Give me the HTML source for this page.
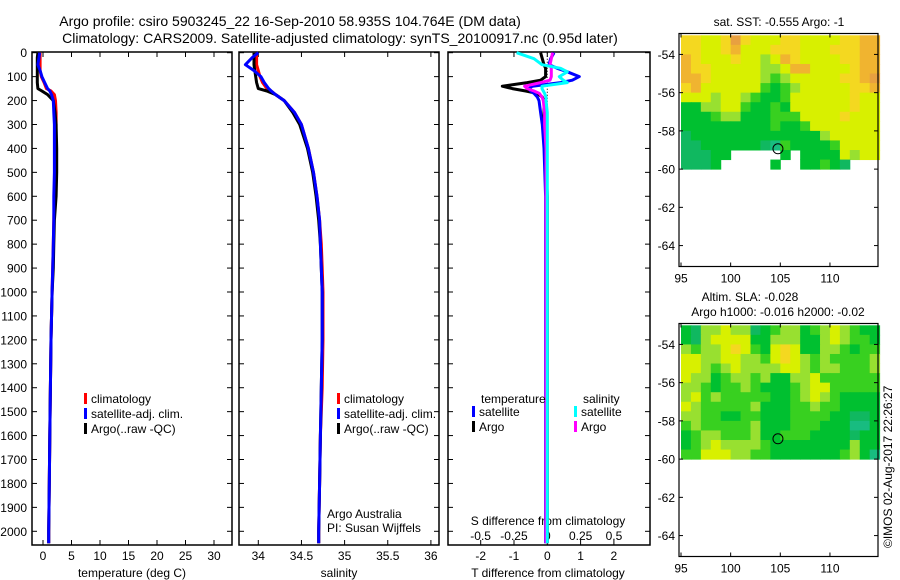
<!DOCTYPE html>
<html><head><meta charset="utf-8">
<style>
html,body{margin:0;padding:0;background:#fff;}
svg{display:block;font-family:"Liberation Sans",sans-serif;}
text{fill:#000;}
</style></head>
<body>
<svg id="fig" width="900" height="580" viewBox="0 0 900 580">
<text x="290" y="26" font-size="14" text-anchor="middle">Argo profile: csiro 5903245_22 16-Sep-2010 58.935S 104.764E (DM data)</text>
<text x="340" y="43" font-size="14" text-anchor="middle">Climatology: CARS2009. Satellite-adjusted climatology: synTS_20100917.nc (0.95d later)</text>
<g id="g1"></g>
<g id="g2"></g>
<g id="g3"></g>
<g id="m1"></g>
<g id="m2"></g>
<text transform="translate(892,548) rotate(-90)" font-size="12">©IMOS 02-Aug-2017 22:26:27</text>
</svg>
<script>
// ---------- profile data ----------
const depths = [0,20,50,75,100,125,150,160,175,200,250,300,400,500,600,700,800,900,1000,1200,1400,1600,1800,2000,2050];
const tempArgo = [-0.9,-1.0,-1.0,-1.0,-1.0,-1.0,-0.9,-0.2,0.8,1.8,2.1,2.3,2.4,2.4,2.3,2.0,1.9,1.8,1.6,1.4,1.3,1.2,1.1,1.0,1.0];
const tempClim = [-0.5,-0.5,-0.5,-0.5,-0.3,0.2,0.6,1.4,2.0,2.2,2.3,2.3,2.2,2.1,2.0,1.9,1.8,1.7,1.6,1.4,1.3,1.2,1.1,1.0,1.0];
const tempSat = [-0.6,-0.7,-0.9,-0.5,-0.2,0.3,0.8,1.2,1.5,1.8,1.9,2.0,2.0,2.0,1.9,1.9,1.8,1.7,1.6,1.4,1.3,1.2,1.1,1.0,1.0];
const salArgo = [33.95,33.95,33.95,33.96,33.97,33.98,34.0,34.1,34.2,34.3,34.4,34.48,34.57,34.63,34.67,34.7,34.72,34.73,34.74,34.74,34.73,34.72,34.71,34.70,34.70];
const salClim = [33.98,33.98,33.98,34.0,34.02,34.05,34.1,34.15,34.2,34.3,34.42,34.5,34.58,34.64,34.68,34.71,34.73,34.74,34.75,34.75,34.74,34.72,34.71,34.70,34.70];
const salSat = [34.0,33.93,33.85,33.95,34.03,34.07,34.12,34.15,34.2,34.3,34.42,34.5,34.58,34.64,34.68,34.71,34.72,34.73,34.74,34.74,34.73,34.72,34.71,34.70,34.70];
const diffDepths = [0,25,50,65,80,100,115,125,140,150,160,170,185,200,250,300,400,600,800,1000,1500,2050];
const dTArgo = [-0.2,-0.15,-0.1,-0.05,-0.05,-0.05,-0.2,-0.6,-1.35,-1.05,-0.65,-0.3,-0.15,-0.1,-0.1,-0.1,-0.05,0,0,0,0,0];
const dSArgo = [0.04,0.03,0.02,0.03,0.03,0.03,0.02,-0.05,-0.17,-0.15,-0.1,-0.06,-0.04,-0.03,-0.02,-0.02,-0.01,-0.01,-0.01,-0.01,-0.01,-0.01];
const dTSat = [0.2,0.1,0.05,0.3,0.6,0.96,0.75,0.4,-0.45,-0.55,-0.5,-0.4,-0.3,-0.25,-0.2,-0.15,-0.1,-0.05,-0.05,-0.05,-0.05,-0.05];
const dSSat = [-0.23,-0.1,-0.04,0.1,0.15,0.09,0.12,0.15,-0.04,-0.04,-0.03,-0.02,-0.01,-0.01,0,0,0,0,0,0,0,0];
const depthTicks = [0,100,200,300,400,500,600,700,800,900,1000,1100,1200,1300,1400,1500,1600,1700,1800,1900,2000];
const tempTicks = [0,5,10,15,20,25,30];
const salTicks = [34,34.5,35,35.5,36];
const tDiffTicks = [-2,-1,0,1,2];
const sDiffTicks = [-0.5,-0.25,0,0.25,0.5];
const sDiffTickLabels = ["-0.5","-0.25","0","0.25","0.5"];
// ---------- map data (rows: lat -53 to -60 in 0.5 deg; cols: lon 95..114), '.' = missing ----------
const sstGrid = [
"77667976667766667788",
"77667866677766677788",
"87666766568766667788",
"87766666556886666788",
"88766666545666667789",
"78666666434566666778",
"66656654334666666766",
"33556643343666666766",
"33345533344466667666",
"33333333343346666666",
"23333333333333566666",
"22333333214333346666",
"22233.....3.33336566",
"2223.....3..33432...",
];
const slaGrid = [
"32556552345534565433",
"32566663355533565443",
"54556764367633554344",
"66556655467654544445",
"66545655556654554445",
"65534554533556444444",
"55434454333456644444",
"56454444433456543333",
"65444445333445443333",
"55443344333444433223",
"45444445333444333113",
"34554445334443333233",
"34565555433333333533",
"44666554433333334531",
];
const colorMap = ["#20c4a8","#18bc80","#10b860","#00c030","#38d020","#98e030","#d8f000","#f4d820","#f0b430","#e8a040"];
const floatLon = 104.764, floatLat = -58.935;

const svg = document.getElementById('fig');
const NS = "http://www.w3.org/2000/svg";
function mk(parent, tag, attrs){ const e=document.createElementNS(NS,tag); for(const k in attrs) e.setAttribute(k,attrs[k]); parent.appendChild(e); return e; }

// ---------- profile panels ----------
const yTop = 52, yBot = 545;
function yDepth(d){ return 52.7 + d*0.2393; }
function frame(g, x0, x1, y0, y1){
  const r = mk(g,'rect',{x:x0,y:y0,width:x1-x0,height:y1-y0,fill:'none',stroke:'#000','stroke-width':1.5});
  
  
}
function yTicks(g, x0, x1, labels){
  depthTicks.forEach(d=>{
    const y=yDepth(d);
    mk(g,'line',{x1:x0,y1:y,x2:x0+5,y2:y,stroke:'#000'});
    mk(g,'line',{x1:x1,y1:y,x2:x1-5,y2:y,stroke:'#000'});
    if(labels){
      const t=mk(g,'text',{x:x0-5,y:y+4.5,'font-size':12,'text-anchor':'end'});
      t.textContent=d;
      
      
    }
  });
}
function xTicks(g, vals, labs, xf, ylab, top){
  vals.forEach((v,i)=>{
    const x=xf(v);
    mk(g,'line',{x1:x,y1:yBot,x2:x,y2:yBot-5,stroke:'#000'});
    if(top) mk(g,'line',{x1:x,y1:yTop,x2:x,y2:yTop+5,stroke:'#000'});
    if(labs){
      const t=mk(g,'text',{x:x,y:ylab,'font-size':12,'text-anchor':'middle'});
      t.textContent=labs[i];
      
      
    }
  });
}
function profile(g, vals, ds, xf, color, name, w){
  let d='';
  vals.forEach((v,i)=>{ d += (i?'L':'M')+xf(v).toFixed(1)+','+yDepth(ds[i]).toFixed(1); });
  const p=mk(g,'path',{d:d,fill:'none',stroke:color,'stroke-width':w||3,'stroke-linejoin':'round'});
  
  
}
function legendEntry(g, x, y, color, label){
  mk(g,'rect',{x:x,y:y-10,width:3,height:11,fill:color});
  const t=mk(g,'text',{x:x+7,y:y,'font-size':12});
  t.textContent=label;
  
  
}
function label(g,x,y,txt,name,anchor){
  const t=mk(g,'text',{x:x,y:y,'font-size':12,'text-anchor':anchor||'start'});
  t.textContent=txt;
  
  
}

// Panel 1: temperature
const g1=document.getElementById('g1');
const xT = v => 43 + 5.7*v;
frame(g1,32,232,yTop,yBot);
yTicks(g1,32,232,true);
xTicks(g1,tempTicks,tempTicks.map(String),xT,560,true);
label(g1,132,577,'temperature (deg C)','x-axis-title','middle');
profile(g1,tempClim,depths,xT,'#f00','climatology-line');
profile(g1,tempArgo,depths,xT,'#000','argo-line');
profile(g1,tempSat,depths,xT,'#00f','satellite-line');
legendEntry(g1,84,403,'#f00','climatology');
legendEntry(g1,84,418,'#00f','satellite-adj. clim.');
legendEntry(g1,84,433,'#000','Argo(..raw -QC)');

// Panel 2: salinity
const g2=document.getElementById('g2');
const xS = v => 258.3 + 86.3*(v-34);
frame(g2,239,439,yTop,yBot);
yTicks(g2,239,439,false);
xTicks(g2,salTicks,["34","34.5","35","35.5","36"],xS,560,true);
label(g2,339,577,'salinity','x-axis-title','middle');
profile(g2,salClim,depths,xS,'#f00','climatology-line');
profile(g2,salArgo,depths,xS,'#000','argo-line');
profile(g2,salSat,depths,xS,'#00f','satellite-line');
legendEntry(g2,337,403,'#f00','climatology');
legendEntry(g2,337,418,'#00f','satellite-adj. clim.');
legendEntry(g2,337,433,'#000','Argo(..raw -QC)');
label(g2,327,518,'Argo Australia','argo-australia-note');
label(g2,327,532,'PI: Susan Wijffels','pi-note');

// Panel 3: differences
const g3=document.getElementById('g3');
const xDT = v => 547.3 + 33.3*v;
const xDS = v => 547.3 + 133.3*v;
frame(g3,448,650,yTop,yBot);
yTicks(g3,448,650,false);
xTicks(g3,tDiffTicks,tDiffTicks.map(String),xDT,560,false);
sDiffTicks.forEach((v,i)=>{ const x=xDS(v); mk(g3,'line',{x1:x,y1:yTop,x2:x,y2:yTop+5,stroke:'#000'});
  const t=mk(g3,'text',{x:x,y:540,'font-size':12,'text-anchor':'middle'}); t.textContent=sDiffTickLabels[i];
  
   });
label(g3,548,525,'S difference from climatology','s-diff-axis-title','middle');
label(g3,548,577,'T difference from climatology','t-diff-axis-title','middle');
mk(g3,'line',{x1:xDT(0),y1:yDepth(0),x2:xDT(0),y2:yDepth(360),stroke:'#000','stroke-dasharray':'1,2'});
profile(g3,dTArgo,diffDepths,xDT,'#000','t-diff-argo-line');
profile(g3,dTSat,diffDepths,xDT,'#00f','t-diff-satellite-line');
profile(g3,dSArgo,diffDepths,xDS,'#f0f','s-diff-argo-line');
profile(g3,dSSat,diffDepths,xDS,'#0ff','s-diff-satellite-line');
label(g3,481,403,'temperature','legend-heading-temperature');
label(g3,583,403,'salinity','legend-heading-salinity');
legendEntry(g3,472,416,'#00f','satellite');
legendEntry(g3,472,431,'#000','Argo');
legendEntry(g3,574,416,'#0ff','satellite');
legendEntry(g3,574,431,'#f0f','Argo');

// ---------- maps ----------
function drawMap(gid, grid, y0, y1){
  const g=document.getElementById(gid);
  const x0=679, x1=878;
  const lonX = lon => 681 + (lon-95)*9.93;
  const latY = lat => (y0+1.8) + (-53-lat)*((y1-y0-3.6)/12);
  grid.forEach((row,r)=>{
    for(let c=0;c<row.length;c++){
      const ch=row[c]; if(ch==='.') continue;
      const lon=95+c, lat=-53-r*0.5;
      const xa=Math.max(lonX(lon),x0), xb=lonX(lon+1);
      const cell=mk(g,'rect',{x:xa,y:latY(lat),width:xb-xa+0.5,height:latY(lat-0.5)-latY(lat)+0.5,fill:colorMap[+ch]});
      
      
    }
  });
  mk(g,'rect',{x:x0,y:y0,width:x1-x0,height:y1-y0,fill:'none',stroke:'#000','stroke-width':1.2});
  [95,100,105,110].forEach(l=>{ const x=lonX(l);
    mk(g,'line',{x1:x,y1:y1,x2:x,y2:y1-4,stroke:'#000'}); mk(g,'line',{x1:x,y1:y0,x2:x,y2:y0+4,stroke:'#000'});
    const t=mk(g,'text',{x:x,y:y1+16,'font-size':12,'text-anchor':'middle'}); t.textContent=l;
    
     });
  [-54,-56,-58,-60,-62,-64].forEach(l=>{ const y=latY(l);
    mk(g,'line',{x1:x0,y1:y,x2:x0+4,y2:y,stroke:'#000'}); mk(g,'line',{x1:x1,y1:y,x2:x1-4,y2:y,stroke:'#000'});
    const t=mk(g,'text',{x:x0-4,y:y+4.5,'font-size':12,'text-anchor':'end'}); t.textContent=l;
    
     });
  const c=mk(g,'circle',{cx:lonX(floatLon),cy:latY(floatLat),r:5,fill:'none',stroke:'#000','stroke-width':1});
  
  
  return g;
}
const gm1=drawMap('m1',sstGrid,33.5,266.5);
label(gm1,779,26,'sat. SST: -0.555 Argo: -1','sst-map-title','middle');
const gm2=drawMap('m2',slaGrid,323.5,556.5);
label(gm2,750,301,'Altim. SLA: -0.028','sla-map-title','middle');
label(gm2,778,316,'Argo h1000: -0.016 h2000: -0.02','argo-height-title','middle');
</script>
</body></html>
